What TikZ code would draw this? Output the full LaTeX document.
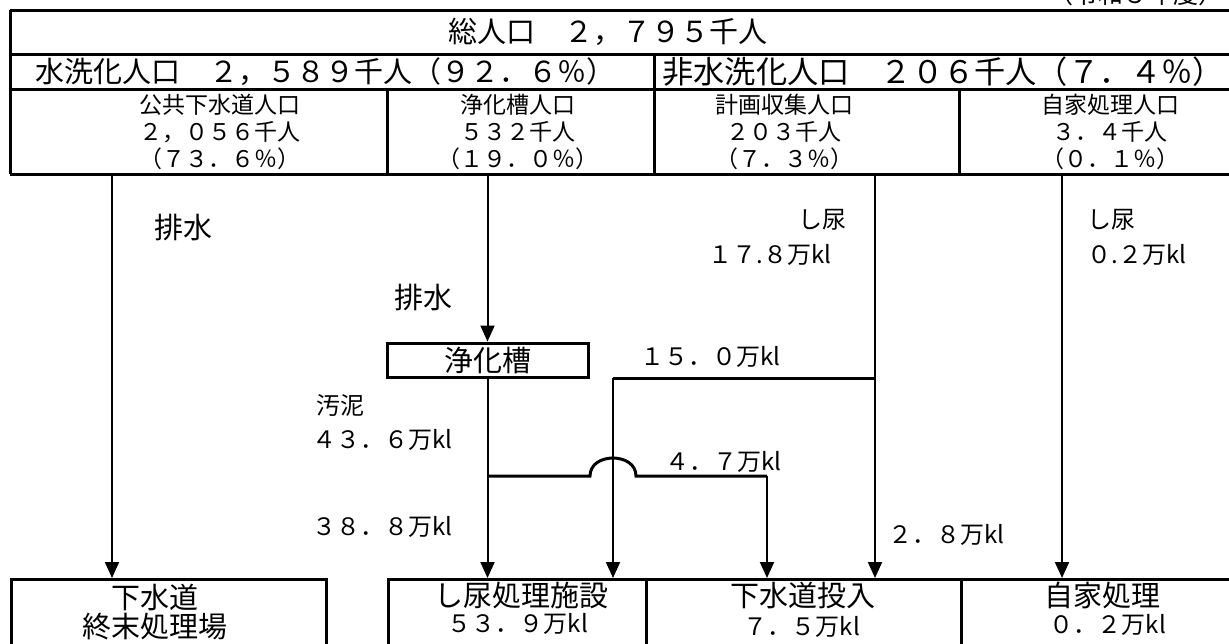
\documentclass[tikz,border=0pt]{standalone}
\usepackage{fontspec}
\setmainfont{Noto Sans CJK JP}
\usetikzlibrary{arrows.meta, calc}
\tikzstyle{head} = [inner sep=0pt, font=\fontsize{14.5pt}{15pt}\selectfont]
\tikzstyle{row} = [inner sep=0pt, anchor=west, font=\fontsize{15.6pt}{16pt}\selectfont]
\tikzstyle{cell} = [inner sep=0pt, align=center, font=\fontsize{11.5pt}{13.5pt}\selectfont]
\tikzstyle{lab} = [inner sep=0pt, font=\fontsize{12pt}{14pt}\selectfont]
\tikzstyle{box} = [rectangle, draw=black, line width=1.5pt, inner sep=0pt]
\tikzstyle{arrow} = [line width=1pt, -{Triangle[length=8pt,width=7pt]}]
\tikzstyle{line} = [line width=1.5pt, -]

\begin{document}
\begin{tikzpicture}[x=0.5pt, y=-0.5pt]
    \useasboundingbox (0,0) rectangle (1229,643);
    % table at the top
    \draw [line] (10,10) -- (1240,10) (10,54) -- (1240,54) (10,89) -- (1240,89)
    (10,174) -- (1240,174); \draw [line] (10,10) -- (10,174) (654,54) --
    (654,174) (387,89) -- (387,174) (959,89) -- (959,174);

    \node (Y) [lab, anchor=east, font=\fontsize{12.5pt}{14pt}\selectfont] at
    (1224,-6) {（令和５年度）}; \node (T) [head] at (608,32) {総人口　２，７９５千人};
    \node (W) [head, anchor=west] at (35,72) {水洗化人口　２，５８９千人（９２．６％）};
    \node (N) [row] at (662,72) {非水洗化人口　２０６千人（７．４％）};
    \node (K) [cell] at (220,132) {公共下水道人口\\２，０５６千人\\（７３．６％）};
    \node (J) [cell] at (518,132) {浄化槽人口\\５３２千人\\（１９．０％）};
    \node (H) [cell] at (784,132) {計画収集人口\\２０３千人\\（７．３％）};
    \node (Z) [cell] at (1110,132) {自家処理人口\\３．４千人\\（０．１％）};

    % boxes
    \node (JT) [box, minimum width=100.5pt, minimum height=17pt, head] at
    (487.5,360) {浄化槽}; \node (SK) [box, minimum width=157.5pt, minimum
      height=60pt, anchor=north west] at (10,578) {}; \node (SN) [box, minimum
      width=129pt, minimum height=60pt, anchor=north west] at (387,578) {};
    \node (GT) [box, minimum width=157.5pt, minimum height=60pt, anchor=north
      west] at (645,578) {}; \node (JS) [box, minimum width=150pt, minimum
      height=60pt, anchor=north west] at (960,578) {};

    \node (SKa) [head] at (155,597) {下水道}; \node (SKb) [head] at (155,627)
    {終末処理場}; \node (SNa) [head] at (521,595) {し尿処理施設}; \node (SNb) [lab]
    at (518,624) {５３．９万kl}; \node (GTa) [head] at (803,595) {下水道投入};
    \node (GTb) [lab] at (802,627) {７．５万kl}; \node (JSa) [head] at (1102,595)
    {自家処理}; \node (JSb) [lab] at (1108,625) {０．２万kl};

    % labels
    \node (HA) [head] at (183,227) {排水}; \node (HB) [head] at (423,297) {排水};
    \node (OD) [lab, anchor=west] at (316,405) {汚泥}; \node (V1) [lab,
      anchor=west] at (312,440) {４３．６万kl}; \node (V2) [lab, anchor=west] at
    (312,527) {３８．８万kl}; \node (V3) [lab, anchor=west] at (640,357)
    {１５．０万kl}; \node (V4) [lab, anchor=west] at (665,462) {４．７万kl};
    \node (V5) [lab, anchor=west] at (888,535) {２．８万kl}; \node (S1) [lab,
      anchor=east] at (847,220) {し尿}; \node (V6) [lab, anchor=east] at
    (832,255) {１７.８万kl}; \node (S2) [lab, anchor=west] at (1087,220) {し尿};
    \node (V7) [lab, anchor=west] at (1087,255) {０.２万kl};

    \coordinate (KB) at (112,174); % bottom of the table
    \coordinate (JB) at (487.5,174); \coordinate (PB) at (875,174);
    \coordinate (ZB) at (1062,174);
    \coordinate (PK) at (875,378); % 15.0 branch
    \coordinate (PL) at (613,378);
    \coordinate (BR) at (487.5,476); % 4.7 branch with the hop
    \coordinate (HL) at (590,476); \coordinate (HR) at (636,476);
    \coordinate (BE) at (767,476);

    \draw [arrow] (KB) -- (KB |- SK.north); \draw [arrow] (JB) -- (JT.north);
    \draw [arrow] (JT.south) -- (JT.south |- SN.north); \draw [arrow] (PB) --
    (PB |- GT.north); \draw [arrow] (ZB) -- (ZB |- JS.north); \draw [line] (PK)
    -- (PL); \draw [arrow] (PL) -- (PL |- SN.north); \draw [line] (BR) -- (HL)
    .. controls ([yshift=12pt]HL) and ([yshift=12pt]HR) .. (HR) -- (BE);
    \draw [arrow] (BE) -- (BE |- GT.north);

  \end{tikzpicture}
\end{document}
